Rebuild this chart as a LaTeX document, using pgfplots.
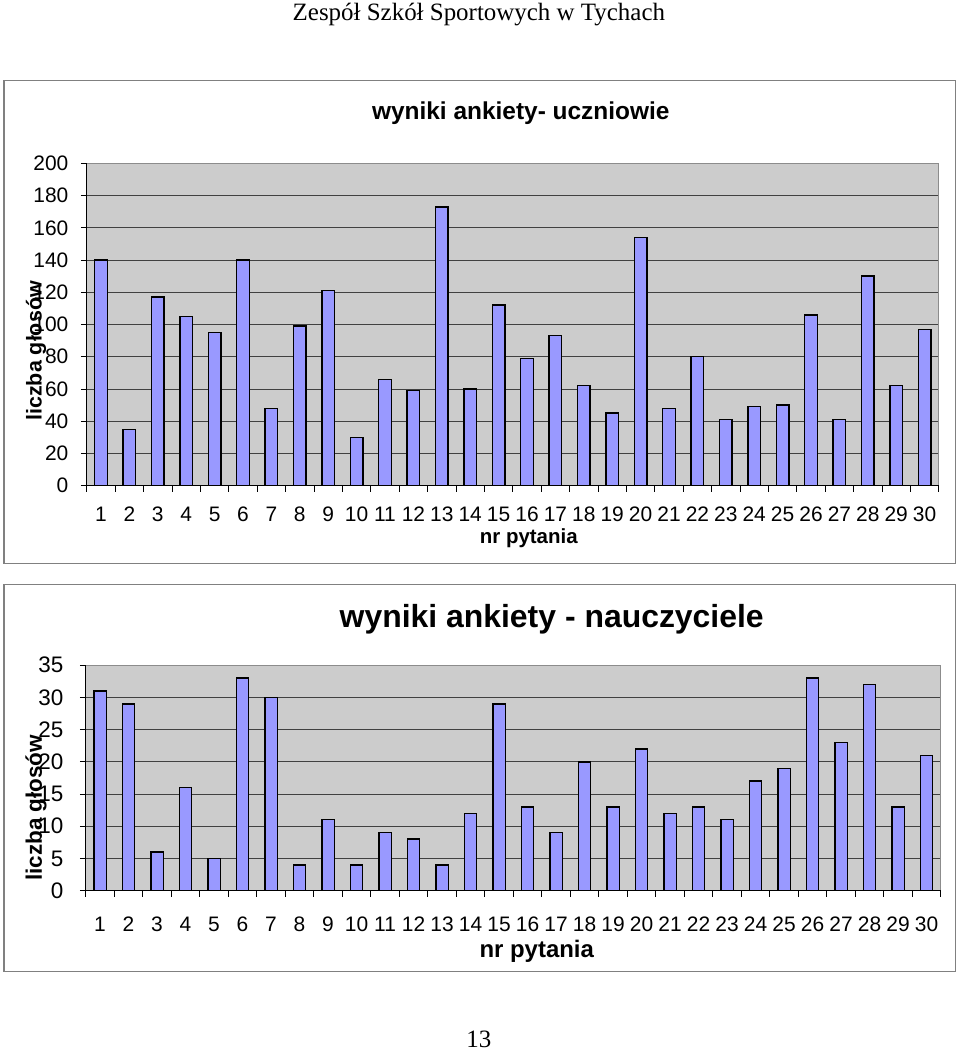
\documentclass[border=0pt]{standalone}
\usepackage{fontspec}
\setmainfont{Liberation Sans}
\newfontfamily\timesfont{Liberation Serif}
\usepackage{pgfplots}
\pgfplotsset{compat=1.18}
\definecolor{barblue}{RGB}{153,153,255}
\definecolor{plotgray}{RGB}{204,204,204}

% wspolny styl obu wykresow
\pgfplotsset{ankieta/.style={
  scale only axis, anchor=south west,
  xmin=0.5, xmax=30.5, ymin=0,
  xtick={0.5,1.5,...,30.5}, x tick label as interval,
  xticklabels={1,2,3,4,5,6,7,8,9,10,11,12,13,14,15,16,17,18,19,20,21,22,23,24,25,26,27,28,29,30},
  xtick pos=bottom, ytick pos=left,
  tick align=outside, major tick length=6pt,
  tick style={black, line width=0.8pt},
  ymajorgrids, grid style={black!75, line width=0.7pt},
  axis background/.style={fill=plotgray},
  axis line style={black!45, line width=0.8pt},
  /pgf/number format/assume math mode=true,
  clip=false,
}}

\begin{document}
\begin{tikzpicture}
\fill[white] (0pt,0pt) rectangle (960pt,-1051pt);
\node[font=\timesfont\fontsize{25}{25}\selectfont] at (480pt,-13pt) {Zespół Szkół Sportowych w Tychach};
\node[font=\timesfont\fontsize{25}{25}\selectfont] at (480pt,-1040pt) {13};

% --- wykres 1: uczniowie
\draw[black!50, line width=1.2pt] (4pt,-79pt) rectangle (958pt,-563pt);
\begin{axis}[ankieta,
  at={(87pt,-485pt)}, width=854pt, height=323pt,
  ymax=200, ytick={0,20,...,200},
  ticklabel style={font=\fontsize{21}{21}\selectfont},
  xticklabel style={yshift=-12pt},
  yticklabel style={xshift=-9pt},
]
\addplot[ybar, bar width=12.5pt, fill=barblue, draw=black, line width=1.4pt] coordinates {
  (1,140) (2,35) (3,117) (4,105) (5,95) (6,140) (7,48) (8,99) (9,121) (10,30)
  (11,66) (12,59) (13,173) (14,60) (15,112) (16,79) (17,93) (18,62) (19,45) (20,154)
  (21,48) (22,80) (23,41) (24,49) (25,50) (26,106) (27,41) (28,130) (29,62) (30,97)
};
\draw[black, line width=1.2pt] (rel axis cs:0,1) -- (rel axis cs:0,0) -- (rel axis cs:1,0);
\end{axis}
\node[font=\bfseries\fontsize{24.5}{24.5}\selectfont] at (522pt,-112pt) {wyniki ankiety- uczniowie};
\node[font=\bfseries\fontsize{20.5}{20.5}\selectfont] at (530pt,-538pt) {nr pytania};
\node[font=\bfseries\fontsize{21.5}{21.5}\selectfont, rotate=90] at (36pt,-350pt) {liczba głosów};

% --- wykres 2: nauczyciele
\draw[black!50, line width=1.2pt] (4pt,-584pt) rectangle (958pt,-972pt);
\begin{axis}[ankieta,
  at={(86pt,-891pt)}, width=857pt, height=226pt,
  ymax=35, ytick={0,5,...,35},
  yticklabel style={font=\fontsize{22.5}{22.5}\selectfont, xshift=-13pt},
  xticklabel style={font=\fontsize{21}{21}\selectfont, yshift=-17pt},
]
\addplot[ybar, bar width=12.5pt, fill=barblue, draw=black, line width=1.4pt] coordinates {
  (1,31) (2,29) (3,6) (4,16) (5,5) (6,33) (7,30) (8,4) (9,11) (10,4)
  (11,9) (12,8) (13,4) (14,12) (15,29) (16,13) (17,9) (18,20) (19,13) (20,22)
  (21,12) (22,13) (23,11) (24,17) (25,19) (26,33) (27,23) (28,32) (29,13) (30,21)
};
\draw[black, line width=1.2pt] (rel axis cs:0,1) -- (rel axis cs:0,0) -- (rel axis cs:1,0);
\end{axis}
\node[font=\bfseries\fontsize{32}{32}\selectfont] at (553pt,-619pt) {wyniki ankiety - nauczyciele};
\node[font=\bfseries\fontsize{24}{24}\selectfont] at (538pt,-952pt) {nr pytania};
\node[font=\bfseries\fontsize{22.5}{22.5}\selectfont, rotate=90] at (36pt,-808pt) {liczba głosów};
\end{tikzpicture}
\end{document}
